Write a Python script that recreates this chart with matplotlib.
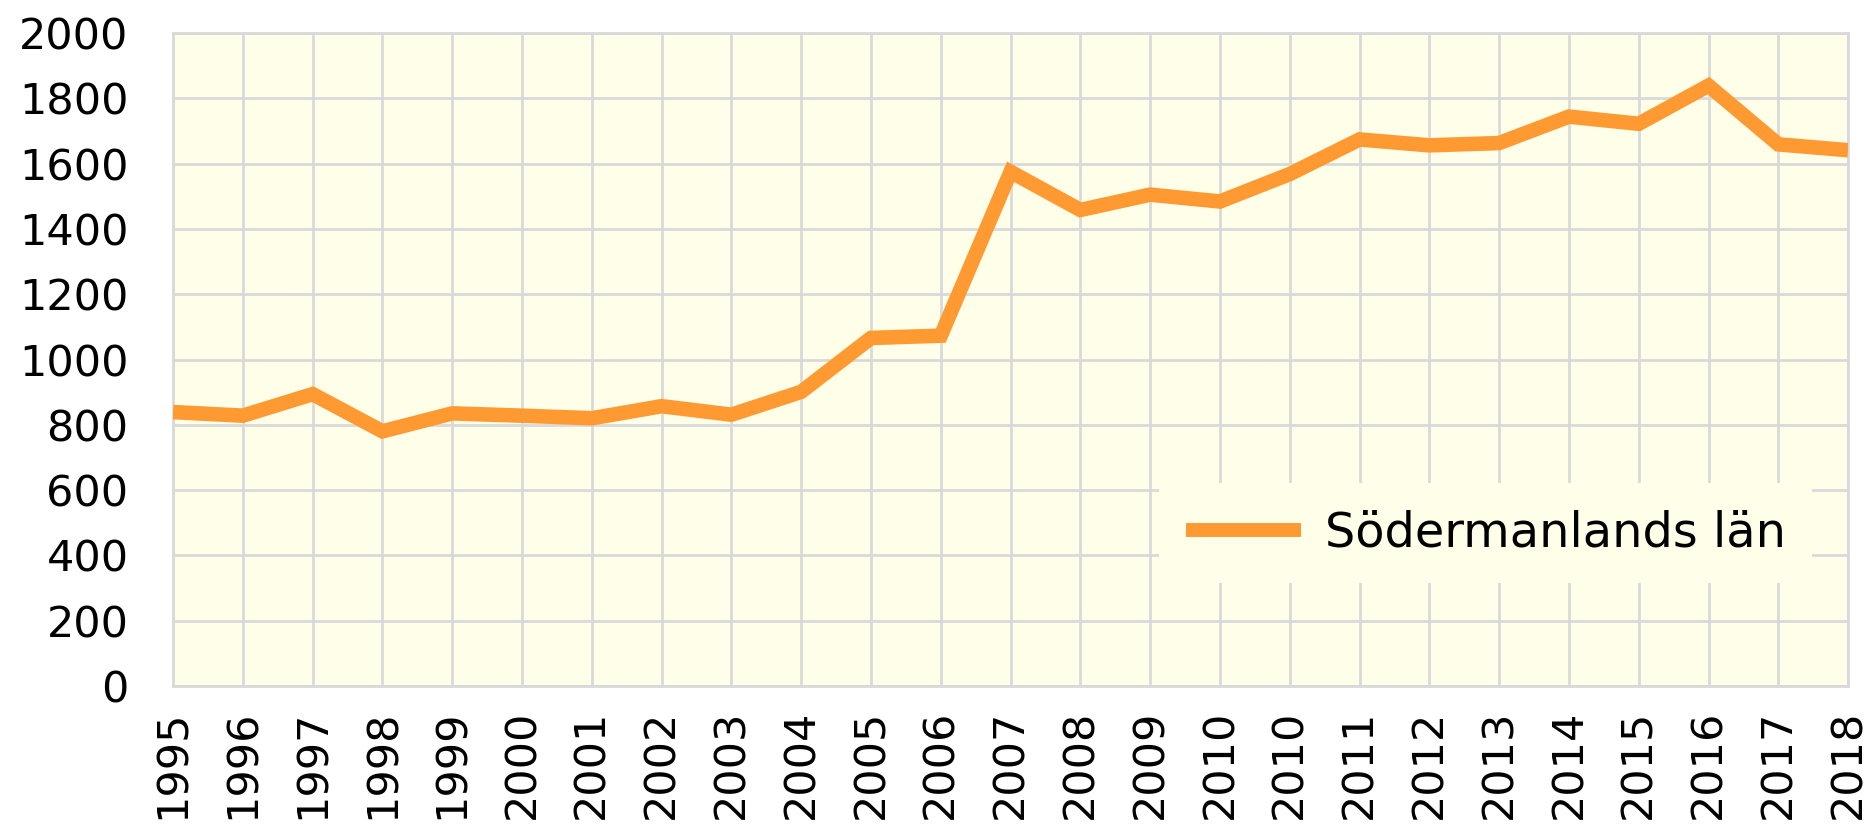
import matplotlib
matplotlib.use("Agg")
import matplotlib.pyplot as plt

years = ["1995", "1996", "1997", "1998", "1999", "2000", "2001", "2002", "2003", "2004",
         "2005", "2006", "2007", "2008", "2009", "2010", "2010", "2011", "2012", "2013",
         "2014", "2015", "2016", "2017", "2018"]
values = [839, 828, 894, 780, 835, 828, 820, 857, 831, 901,
          1066, 1073, 1575, 1458, 1505, 1484, 1568, 1674, 1656, 1663,
          1744, 1722, 1839, 1659, 1641]
series_name = "Södermanlands län"
y_ticks = [0, 200, 400, 600, 800, 1000, 1200, 1400, 1600, 1800, 2000]

plt.rcParams['font.family'] = ['DejaVu Sans']

fig = plt.figure(figsize=(18.73, 8.32), dpi=100)
ax = fig.add_axes([0.0924, 0.1755, 0.8943, 0.7848])
face = '#FFFEE9'
ax.set_facecolor(face)

x = list(range(len(years)))
ax.plot(x, values, color='#FF9A33', linewidth=10.5, solid_joinstyle='miter',
        solid_capstyle='butt', label=series_name, zorder=3)

ax.set_xlim(0, len(years) - 1)
ax.set_ylim(0, 2000)
ax.set_yticks(y_ticks)
ax.set_yticklabels([str(v) for v in y_ticks])
ax.set_xticks(x)
ax.set_xticklabels(years, rotation=90)
ax.tick_params(axis='both', length=0, labelsize=31, colors='black')
ax.tick_params(axis='y', pad=32)
ax.tick_params(axis='x', pad=17)

ax.grid(True, color='#D9D9D9', linewidth=2)
ax.set_axisbelow(True)
for s in ax.spines.values():
    s.set_color('#D9D9D9')
    s.set_linewidth(2)

leg = ax.legend(loc='lower right', bbox_to_anchor=(0.9785, 0.158), borderaxespad=0,
                fontsize=34.5, frameon=True, facecolor=face, edgecolor='none',
                framealpha=1, handlelength=2.4, handletextpad=0.5, borderpad=0.55,
                fancybox=False)
leg.get_frame().set_linewidth(0)
for h in leg.get_lines():
    h.set_linewidth(10)

fig.savefig('out.png', dpi=100, facecolor='white')
